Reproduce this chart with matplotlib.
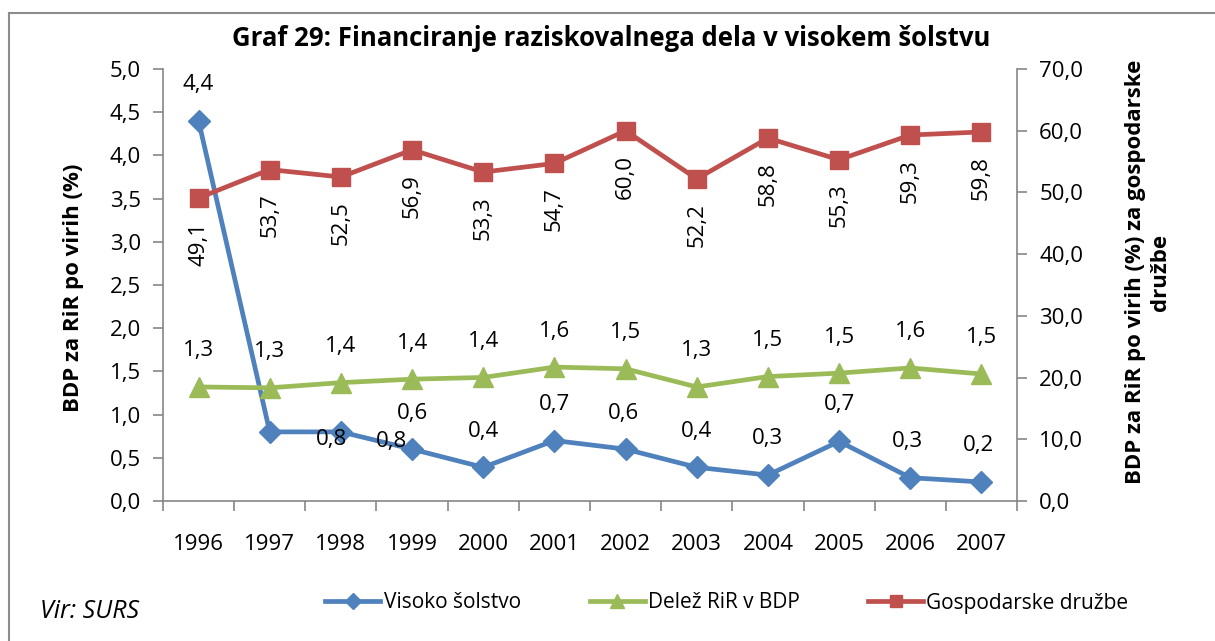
import matplotlib
matplotlib.use("Agg")
import matplotlib.pyplot as plt
from matplotlib.lines import Line2D

years = ["1996", "1997", "1998", "1999", "2000", "2001", "2002", "2003", "2004", "2005", "2006", "2007"]
visoko = [4.40, 0.80, 0.80, 0.60, 0.39, 0.70, 0.60, 0.39, 0.30, 0.69, 0.27, 0.22]
visoko_lbl = ["4,4", "0,8", "0,8", "0,6", "0,4", "0,7", "0,6", "0,4", "0,3", "0,7", "0,3", "0,2"]
delez = [1.32, 1.31, 1.37, 1.41, 1.43, 1.55, 1.53, 1.32, 1.44, 1.48, 1.54, 1.47]
delez_lbl = ["1,3", "1,3", "1,4", "1,4", "1,4", "1,6", "1,5", "1,3", "1,5", "1,5", "1,6", "1,5"]
gosp = [49.1, 53.7, 52.5, 56.9, 53.3, 54.7, 60.0, 52.2, 58.8, 55.3, 59.3, 59.8]
gosp_lbl = ["49,1", "53,7", "52,5", "56,9", "53,3", "54,7", "60,0", "52,2", "58,8", "55,3", "59,3", "59,8"]
left_ticks = [0.0, 0.5, 1.0, 1.5, 2.0, 2.5, 3.0, 3.5, 4.0, 4.5, 5.0]
right_ticks = [0, 10, 20, 30, 40, 50, 60, 70]

# label offsets in pixels (dx, dy) for blue labels
blue_off = [(0, 36), (62, -8), (51, -10), (0, 36), (0, 36), (0, 36),
            (-2, 36), (0, 36), (0, 37), (0, 37), (-3, 36), (-3, 36)]

FONT = ["Open Sans", "DejaVu Sans"]
plt.rcParams['font.family'] = FONT

BLUE = "#4F81BD"
GREEN = "#9BBB59"
RED = "#C0504D"
GRAY = "#868686"
TXT = "#000000"
FS = 16

fig = plt.figure(figsize=(12.15, 6.41), dpi=100)
fig.patch.set_facecolor("white")

ax = fig.add_axes([163/1215, 1-501/641, (1017-163)/1215, (501-69)/641])
ax2 = ax.twinx()

x = list(range(len(years)))

ax.plot(x, visoko, color=BLUE, lw=3.4, marker="D", ms=11, mfc=BLUE, mec=BLUE, zorder=3)
ax.plot(x, delez, color=GREEN, lw=3.4, marker="^", ms=14, mfc=GREEN, mec=GREEN, zorder=3)
ax2.plot(x, gosp, color=RED, lw=3.4, marker="s", ms=13, mfc=RED, mec=RED, zorder=3)

for i in x:
    dx, dy = blue_off[i]
    ax.annotate(visoko_lbl[i], (i, visoko[i]), xytext=(dx, dy), textcoords="offset pixels",
                ha="center", va="center", fontsize=FS, color=TXT)
    ax.annotate(delez_lbl[i], (i, delez[i]), xytext=(0, 36), textcoords="offset pixels",
                ha="center", va="center", fontsize=FS, color=TXT)
    ax2.annotate(gosp_lbl[i], (i, gosp[i]), xytext=(0, -24), textcoords="offset pixels",
                 ha="center", va="top", rotation=90, fontsize=FS, color=TXT)

ax.set_xlim(-0.5, len(years) - 0.5)
ax.set_ylim(0, 5)
ax2.set_ylim(0, 70)
ax.set_yticks(left_ticks)
ax.set_yticklabels([f"{v:.1f}".replace(".", ",") for v in left_ticks])
ax2.set_yticks(right_ticks)
ax2.set_yticklabels([f"{v:.1f}".replace(".", ",") for v in right_ticks])

ax.set_xticks(x)
ax.set_xticklabels(years)
ax.set_xticks([i - 0.5 for i in range(len(years) + 1)], minor=True)
ax.tick_params(axis="x", which="major", length=0, pad=24, labelsize=FS, colors=TXT)
ax.tick_params(axis="x", which="minor", length=7, width=1.2, color=GRAY, direction="out")
ax.tick_params(axis="y", length=7, width=1.2, color=GRAY, labelsize=FS, pad=9, labelcolor=TXT)
ax2.tick_params(axis="y", length=7, width=1.2, color=GRAY, labelsize=FS, pad=9, labelcolor=TXT)

for a in (ax, ax2):
    for s in a.spines.values():
        s.set_visible(False)
    a.set_facecolor("none")
ax.spines["left"].set_visible(True)
ax.spines["bottom"].set_visible(True)
ax2.spines["right"].set_visible(True)
for s in (ax.spines["left"], ax.spines["bottom"], ax2.spines["right"]):
    s.set_color(GRAY)
    s.set_linewidth(1.2)

fig.text(611/1215, 1-38/641, "Graf 29: Financiranje raziskovalnega dela v visokem šolstvu",
         ha="center", va="center", fontsize=18.5, fontweight="bold", color=TXT)
fig.text(73/1215, 1-288/641, "BDP za RiR po virih (%)", rotation=90, ha="center", va="center",
         fontsize=FS, fontweight="bold", color=TXT)
fig.text(1148/1215, 1-272/641, "BDP za RiR po virih (%) za gospodarske\ndružbe", rotation=90,
         ha="center", va="center", fontsize=FS, fontweight="bold", color=TXT, linespacing=1.25,
         multialignment="center")
fig.text(40/1215, 1-611/641, "Vir: SURS", ha="left", va="center", fontsize=18,
         fontstyle="italic", color=TXT)

handles = [
    Line2D([], [], color=BLUE, lw=3.4, marker="D", ms=8),
    Line2D([], [], color=GREEN, lw=3.4, marker="^", ms=10),
    Line2D([], [], color=RED, lw=3.4, marker="s", ms=9),
]
labels = ["Visoko šolstvo", "Delež RiR v BDP", "Gospodarske družbe"]
fig.legend(handles, labels, loc="center", bbox_to_anchor=(727/1215, 1-603/641), ncol=3,
           frameon=False, fontsize=15, handlelength=2.64, handletextpad=0.15, columnspacing=3.3)

# outer chart border (top and left visible)
fig.add_artist(Line2D([9/1215, 1.0], [1-13/641, 1-13/641], color="#8c8c8c", lw=1.5,
                      transform=fig.transFigure))
fig.add_artist(Line2D([9/1215, 9/1215], [0, 1-13/641], color="#8c8c8c", lw=1.5,
                      transform=fig.transFigure))

fig.savefig("out.png", dpi=100, facecolor="white")
